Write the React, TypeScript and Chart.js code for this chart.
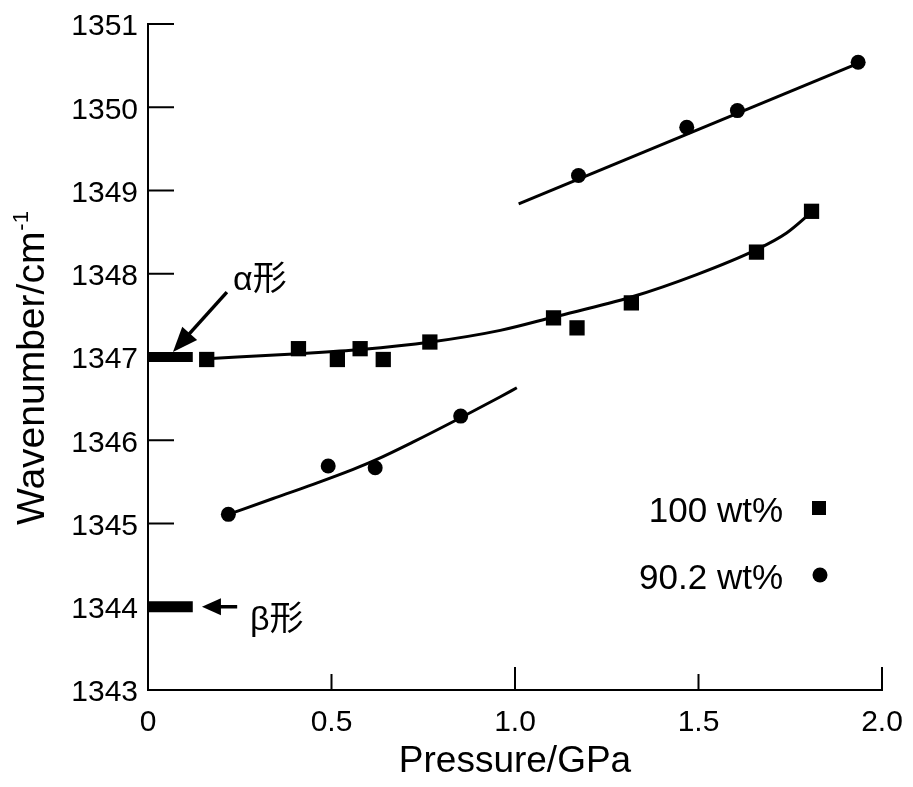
import React, { useEffect, useRef } from 'react';
import { Chart, registerables } from 'chart.js';

Chart.register(...registerables);

// ---- data ----
const xTicks = [0, 0.5, 1.0, 1.5, 2.0];
const xTickLabels = ['0', '0.5', '1.0', '1.5', '2.0'];
const yTicks = [1343, 1344, 1345, 1346, 1347, 1348, 1349, 1350, 1351];

const sq100X = [0.16, 0.41, 0.516, 0.578, 0.641, 0.768, 1.105, 1.169, 1.317, 1.658, 1.808];
const sq100Y = [1346.97, 1347.1, 1346.97, 1347.1, 1346.97, 1347.18, 1347.47, 1347.35, 1347.65, 1348.26, 1348.75];

const c902X = [0.219, 0.491, 0.619, 0.852, 1.173, 1.468, 1.606, 1.935];
const c902Y = [1345.11, 1345.69, 1345.67, 1346.29, 1349.18, 1349.76, 1349.96, 1350.54];

// fitted curves
const fitSqX = [0.16, 0.41, 0.58, 0.77, 0.96, 1.105, 1.317, 1.495, 1.658, 1.74, 1.808];
const fitSqY = [1346.98, 1347.04, 1347.09, 1347.18, 1347.32, 1347.48, 1347.72, 1347.99, 1348.29, 1348.49, 1348.74];

const fitLowX = [0.219, 0.341, 0.45, 0.559, 0.619, 0.723, 0.852, 0.959, 1.005];
const fitLowY = [1345.11, 1345.3, 1345.47, 1345.65, 1345.76, 1345.98, 1346.27, 1346.52, 1346.63];

const fitHighX = [1.01, 1.92];
const fitHighY = [1348.84, 1350.5];

// alpha / beta reference bars
const alphaBarX = [0, 0.122];
const alphaBarY = [1347, 1347];
const betaBarX = [0, 0.122];
const betaBarY = [1344, 1344];

// annotation arrows: [start, tip]
const alphaArrowX = [0.215, 0.068];
const alphaArrowY = [1347.78, 1347.06];
const betaArrowX = [0.243, 0.147];
const betaArrowY = [1344, 1344];

const annoText = ['α形', 'β形'];
const annoX = [0.305, 0.351];
const annoY = [1347.805, 1343.72];

const legendLabels = ['100 wt%', '90.2 wt%'];
const xTitle = 'Pressure/GPa';
const yTitle = 'Wavenumber/cm';
const yTitleSup = '-1';

const FONT = '"Liberation Sans", Arial, Helvetica, sans-serif';
const CJK = '"Liberation Sans", "Noto Sans CJK JP", sans-serif';

const zip = (xs: number[], ys: number[]) => xs.map((x, i) => ({ x, y: ys[i] }));

function drawArrow(ctx: CanvasRenderingContext2D, x0: number, y0: number, x1: number, y1: number, headLen: number, headHalf: number, lw: number) {
  const ang = Math.atan2(y1 - y0, x1 - x0);
  const c = Math.cos(ang), s = Math.sin(ang);
  const bx = x1 - headLen * c, by = y1 - headLen * s;
  ctx.lineWidth = lw;
  ctx.beginPath();
  ctx.moveTo(x0, y0);
  ctx.lineTo(bx + c * 2, by + s * 2);
  ctx.stroke();
  ctx.beginPath();
  ctx.moveTo(x1, y1);
  ctx.lineTo(bx + headHalf * s, by - headHalf * c);
  ctx.lineTo(bx - headHalf * s, by + headHalf * c);
  ctx.closePath();
  ctx.fill();
}

const decorPlugin = {
  id: 'decor',
  afterDraw(chart: any) {
    const { ctx, chartArea } = chart;
    const xs = chart.scales.x;
    const ys = chart.scales.y;
    ctx.save();
    ctx.strokeStyle = '#000';
    ctx.fillStyle = '#000';
    ctx.lineWidth = 2;
    ctx.lineCap = 'butt';
    // inward ticks
    xTicks.forEach((v) => {
      if (v === 0) return;
      const px = xs.getPixelForValue(v);
      const len = Number.isInteger(v) ? 23 : 16;
      ctx.beginPath();
      ctx.moveTo(px, chartArea.bottom);
      ctx.lineTo(px, chartArea.bottom - len);
      ctx.stroke();
    });
    yTicks.forEach((v) => {
      if (v === yTicks[0]) return;
      const py = ys.getPixelForValue(v);
      ctx.beginPath();
      ctx.moveTo(chartArea.left, py);
      ctx.lineTo(chartArea.left + 26, py);
      ctx.stroke();
    });
    // arrows
    drawArrow(ctx, xs.getPixelForValue(alphaArrowX[0]), ys.getPixelForValue(alphaArrowY[0]),
      xs.getPixelForValue(alphaArrowX[1]), ys.getPixelForValue(alphaArrowY[1]), 25, 10, 3.5);
    drawArrow(ctx, xs.getPixelForValue(betaArrowX[0]), ys.getPixelForValue(betaArrowY[0]),
      xs.getPixelForValue(betaArrowX[1]), ys.getPixelForValue(betaArrowY[1]), 19, 8.5, 3.5);
    // annotation text
    ctx.font = `34px ${CJK}`;
    ctx.textAlign = 'center';
    ctx.textBaseline = 'alphabetic';
    annoText.forEach((t, i) => {
      ctx.fillText(t, xs.getPixelForValue(annoX[i]), ys.getPixelForValue(annoY[i]));
    });
    // legend (text left, marker right)
    ctx.font = `35px ${FONT}`;
    ctx.textAlign = 'right';
    const lgX = chartArea.right - 99;
    const lgY0 = 522;
    const lgDy = 67;
    legendLabels.forEach((t, i) => {
      ctx.fillText(t, lgX, lgY0 + i * lgDy);
    });
    const mx = chartArea.right - 63;
    ctx.fillRect(mx - 7, lgY0 - 21, 14, 14);
    ctx.beginPath();
    ctx.arc(mx + 1, lgY0 + lgDy - 14, 7.5, 0, Math.PI * 2);
    ctx.fill();
    // y title with superscript
    ctx.font = `39px ${FONT}`;
    const w1 = ctx.measureText(yTitle).width;
    ctx.font = `22px ${FONT}`;
    const w2 = ctx.measureText(yTitleSup).width;
    const total = w1 + w2 + 1;
    ctx.translate(44, 368 + total / 2);
    ctx.rotate(-Math.PI / 2);
    ctx.textAlign = 'left';
    ctx.font = `39px ${FONT}`;
    ctx.fillText(yTitle, 0, 0);
    ctx.font = `22px ${FONT}`;
    ctx.fillText(yTitleSup, w1 + 1, -16);
    ctx.restore();
  },
};

export default function App() {
  const ref = useRef<HTMLCanvasElement>(null);
  useEffect(() => {
    if (!ref.current) return;
    const lineDs = (data: any[], width: number, extra: any = {}) => ({
      type: 'line',
      data,
      showLine: true,
      borderColor: '#000',
      borderWidth: width,
      pointRadius: 0,
      fill: false,
      ...extra,
    });
    const chart = new Chart(ref.current, {
      type: 'scatter',
      data: {
        datasets: [
          {
            label: legendLabels[0],
            data: zip(sq100X, sq100Y),
            pointStyle: 'rect',
            pointRadius: 10.8,
            backgroundColor: '#000',
            borderWidth: 0,
            showLine: false,
          },
          {
            label: legendLabels[1],
            data: zip(c902X, c902Y),
            pointStyle: 'circle',
            pointRadius: 7.5,
            backgroundColor: '#000',
            borderWidth: 0,
            showLine: false,
          },
          lineDs(zip(fitSqX, fitSqY), 3, { cubicInterpolationMode: 'monotone' }),
          lineDs(zip(fitLowX, fitLowY), 3, { cubicInterpolationMode: 'monotone' }),
          lineDs(zip(fitHighX, fitHighY), 3),
          lineDs(zip(alphaBarX, alphaBarY), 10),
          lineDs(zip(betaBarX, betaBarY), 11),
        ] as any,
      },
      options: {
        animation: false,
        responsive: false,
        devicePixelRatio: 1,
        layout: { padding: { top: 24, right: 31, left: 0, bottom: 0 } },
        plugins: { legend: { display: false }, tooltip: { enabled: false } },
        scales: {
          x: {
            type: 'linear',
            min: 0,
            max: 2,
            afterFit: (s: any) => { s.height = 97; },
            afterBuildTicks: (s: any) => { s.ticks = xTicks.map((v) => ({ value: v })); },
            ticks: {
              color: '#000',
              font: { size: 30, family: FONT },
              padding: 7,
              maxRotation: 0,
              callback: (v: any) => xTickLabels[xTicks.indexOf(Number(v))] ?? '',
            },
            grid: { display: false },
            border: { display: true, color: '#000', width: 2 },
            title: {
              display: true,
              text: xTitle,
              color: '#000',
              font: { size: 37, family: FONT },
              padding: { top: 0, bottom: 3 },
            },
          },
          y: {
            type: 'linear',
            min: 1343,
            max: 1351,
            afterFit: (s: any) => { s.width = 148; },
            afterBuildTicks: (s: any) => { s.ticks = yTicks.map((v) => ({ value: v })); },
            ticks: {
              color: '#000',
              font: { size: 30, family: FONT },
              padding: 2,
              labelOffset: 3,
              callback: (v: any) => String(v),
            },
            grid: { display: false },
            border: { display: true, color: '#000', width: 2 },
          },
        },
      } as any,
      plugins: [decorPlugin],
    });
    return () => chart.destroy();
  }, []);
  return (
    <div style={{ position: 'fixed', left: 0, top: 0, width: 913, height: 787, background: '#fff' }}>
      <canvas ref={ref} width={913} height={787} style={{ display: 'block', width: 913, height: 787 }} />
    </div>
  );
}
